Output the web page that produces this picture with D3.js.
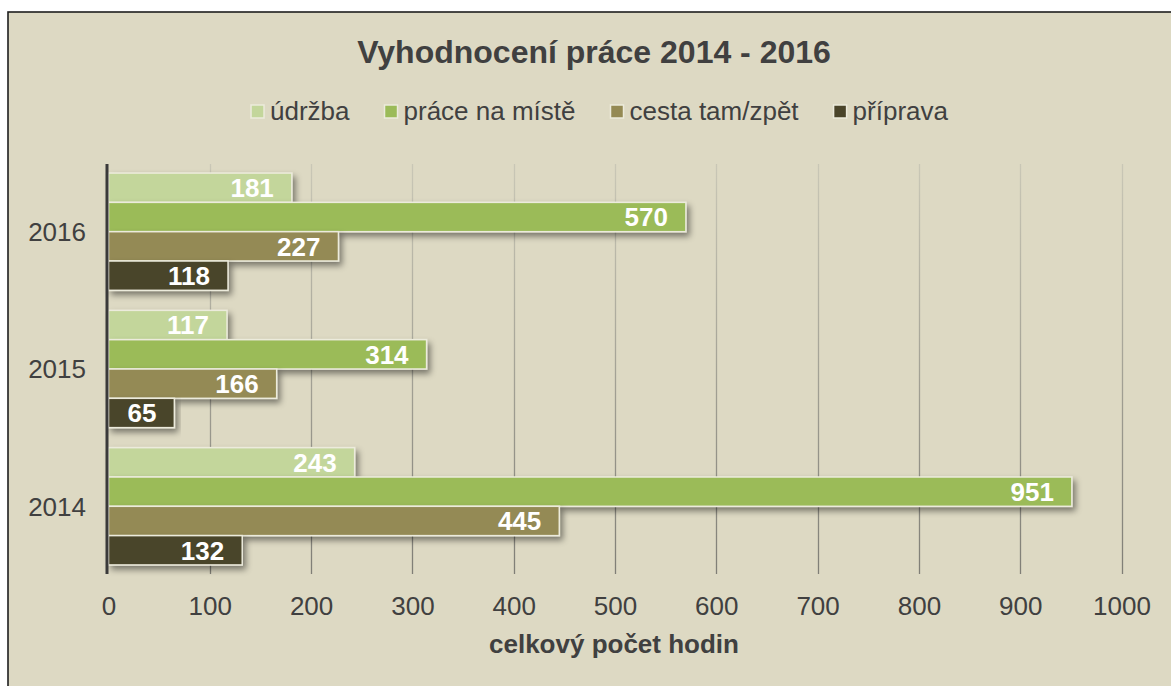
<!DOCTYPE html>
<html>
<head>
<meta charset="utf-8">
<script src="https://cdn.jsdelivr.net/npm/d3@7"></script>
<style>
  html, body { margin: 0; padding: 0; background: #ffffff; }
  svg { display: block; font-family: Arial, "Liberation Sans", sans-serif; }
</style>
</head>
<body>
<svg></svg>
<script>
// data
const years  = ["2016", "2015", "2014"];
const series = ["údržba", "práce na místě", "cesta tam/zpět", "příprava"];
const values = {
  "2016": [181, 570, 227, 118],
  "2015": [117, 314, 166, 65],
  "2014": [243, 951, 445, 132]
};
const xTicks = [0, 100, 200, 300, 400, 500, 600, 700, 800, 900, 1000];

const title  = "Vyhodnocení práce 2014 - 2016";
const xTitle = "celkový počet hodin";

// setup
const width  = 1171;
const height = 686;

const colors = { 'údržba'         : '#C3D69B',
                 'práce na místě' : '#9BBB59',
                 'cesta tam/zpět' : '#948A54',
                 'příprava'       : '#4A452A' };

const bg       = '#DDD9C3';
const textCol  = '#404040';

const plot = { left: 108.5, right: 1121.5, top: 164, bottom: 574 };

const svg = d3.select("svg")
    .attr("width", width)
    .attr("height", height);

const defs = svg.append("defs");

// soft drop shadow under bars
const shadow = defs.append("filter").attr("id", "shadow")
    .attr("x", "-5%").attr("y", "-30%").attr("width", "115%").attr("height", "170%");
shadow.append("feDropShadow")
    .attr("dx", 3).attr("dy", 4).attr("stdDeviation", 3)
    .attr("flood-color", "#000").attr("flood-opacity", 0.45);

// gridlines fade from light at top to darker at bottom
const gridGrad = defs.append("linearGradient").attr("id", "gridGrad")
    .attr("gradientUnits", "userSpaceOnUse")
    .attr("x1", 0).attr("y1", plot.top).attr("x2", 0).attr("y2", plot.bottom);
gridGrad.append("stop").attr("offset", "0%").attr("stop-color", "#c9c7b6");
gridGrad.append("stop").attr("offset", "100%").attr("stop-color", "#7f7e76");

// chart frame
svg.append("rect")
    .attr("x", 8).attr("y", 12)
    .attr("width", 1300).attr("height", 800)
    .attr("fill", bg)
    .attr("stroke", "#1e1e1e")
    .attr("stroke-width", 1.6);

// scales
const x = d3.scaleLinear().domain([0, 1000]).range([plot.left, plot.right]);

const y = d3.scaleBand()
    .domain(years)
    .range([plot.top, plot.bottom])
    .paddingInner(0.146)
    .paddingOuter(0.066);

const ySub = d3.scaleBand()
    .domain(series)
    .range([0, y.bandwidth()]);

// gridlines
svg.append("g").attr("class", "grid")
  .selectAll("line")
  .data(xTicks.filter(d => d > 0))
  .join("line")
    .attr("x1", d => Math.round(x(d)) + 0.5)
    .attr("x2", d => Math.round(x(d)) + 0.5)
    .attr("y1", plot.top)
    .attr("y2", plot.bottom)
    .attr("stroke", "url(#gridGrad)")
    .attr("stroke-width", 1.3);

// x axis tick labels
const xAxis = d3.axisBottom(x).tickValues(xTicks).tickFormat(d3.format("d"))
    .tickSize(0).tickPadding(0);
const xg = svg.append("g")
    .attr("transform", `translate(0, ${plot.bottom})`)
    .call(xAxis);
xg.select(".domain").remove();
xg.selectAll("text")
    .attr("dy", null)
    .attr("y", 41)
    .attr("fill", textCol)
    .attr("font-size", 26)
    .attr("font-family", "Arial, 'Liberation Sans', sans-serif");

// y axis labels
const yAxis = d3.axisLeft(y).tickSize(0).tickPadding(0);
const yg = svg.append("g")
    .attr("transform", `translate(86, 0)`)
    .call(yAxis);
yg.select(".domain").remove();
yg.selectAll("text")
    .attr("dy", "0.36em")
    .attr("fill", textCol)
    .attr("font-size", 26)
    .attr("font-family", "Arial, 'Liberation Sans', sans-serif");

// bars
const groups = svg.append("g").attr("class", "bars")
  .selectAll("g")
  .data(years)
  .join("g")
    .attr("transform", d => `translate(0, ${y(d)})`);

const bars = groups.selectAll("g")
  .data(yr => series.map((s, i) => ({ year: yr, key: s, value: values[yr][i] })))
  .join("g");

bars.append("rect")
    .attr("x", x(0))
    .attr("y", d => ySub(d.key))
    .attr("width", d => x(d.value) - x(0))
    .attr("height", ySub.bandwidth())
    .attr("fill", d => colors[d.key])
    .attr("stroke", "#ecebdc")
    .attr("stroke-width", 1.5)
    .attr("filter", "url(#shadow)");

bars.append("text")
    .attr("x", d => x(d.value) - 18)
    .attr("y", d => ySub(d.key) + ySub.bandwidth() / 2)
    .attr("dy", "0.36em")
    .attr("text-anchor", "end")
    .attr("fill", "#ffffff")
    .attr("font-weight", "bold")
    .attr("font-size", 26)
    .text(d => d.value);

// value axis line
svg.append("line")
    .attr("x1", 107).attr("x2", 107)
    .attr("y1", plot.top).attr("y2", plot.bottom)
    .attr("stroke", "#3a3a3a")
    .attr("stroke-width", 3);

// title
svg.append("text")
    .attr("x", 594).attr("y", 63)
    .attr("text-anchor", "middle")
    .attr("fill", textCol)
    .attr("font-weight", "bold")
    .attr("font-size", 32)
    .text(title);

// axis title
svg.append("text")
    .attr("x", 614).attr("y", 653)
    .attr("text-anchor", "middle")
    .attr("fill", textCol)
    .attr("font-weight", "bold")
    .attr("font-size", 26)
    .text(xTitle);

////////////////////////////
// -------- LEGEND
////////////////////////////
const legend = svg.append("g").attr("class", "legend");
const boxSize = 13, boxGap = 6, itemGap = 35;

const items = legend.selectAll("g")
  .data(series)
  .join("g");

items.append("rect")
    .attr("width", boxSize).attr("height", boxSize)
    .attr("y", 105)
    .attr("fill", d => colors[d])
    .attr("stroke", "#ecebdc")
    .attr("stroke-width", 1.5);

items.append("text")
    .attr("x", boxSize + boxGap)
    .attr("y", 120)
    .attr("fill", textCol)
    .attr("font-size", 26)
    .text(d => d);

// lay the items out in a row, centred
let offset = 0;
const positions = [];
items.each(function(){
  const w = boxSize + boxGap + d3.select(this).select("text").node().getComputedTextLength();
  positions.push(offset);
  offset += w + itemGap;
});
const total = offset - itemGap;
const startX = 599.5 - total / 2;
items.attr("transform", (d, i) => `translate(${startX + positions[i]}, 0)`);
</script>
</body>
</html>
